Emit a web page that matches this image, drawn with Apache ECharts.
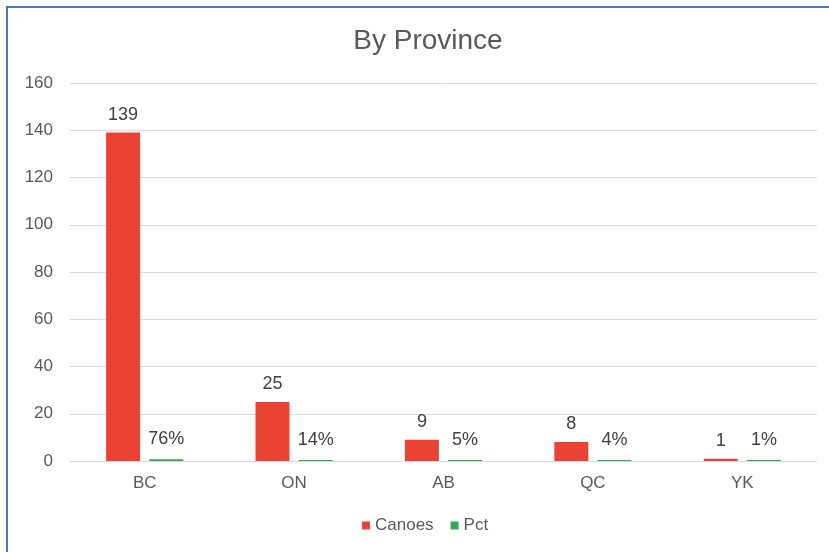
<!DOCTYPE html>
<html>
<head>
<meta charset="utf-8">
<script src="https://cdn.jsdelivr.net/npm/echarts@6/dist/echarts.min.js"></script>
<style>
html,body{margin:0;padding:0;background:#fff;}
#frame{position:absolute;left:6px;top:6px;width:823px;height:546px;border-left:2px solid #4a78cf;border-top:2px solid #4a78cf;}
#chart{position:absolute;left:0;top:0;width:829px;height:552px;}
</style>
</head>
<body>
<div id="frame"></div>
<div id="chart"></div>
<script>
var categories = ['BC', 'ON', 'AB', 'QC', 'YK'];
var canoes = [139, 25, 9, 8, 1];
var pct = [0.76, 0.14, 0.05, 0.04, 0.01];
var yTicks = {min: 0, max: 160, interval: 20};

var chart = echarts.init(document.getElementById('chart'));
var font = 'Liberation Sans, Arial, sans-serif';
chart.setOption({
  backgroundColor: 'transparent',
  animation: false,
  title: {
    text: 'By Province', left: 423, top: 22, textAlign: 'center',
    textStyle: {fontFamily: font, fontSize: 28, fontWeight: 'normal', color: '#595959'}
  },
  legend: {
    data: ['Canoes', 'Pct'], bottom: 18, left: 362, padding: 0,
    itemWidth: 8, itemHeight: 8, itemGap: 17, icon: 'rect',
    textStyle: {fontFamily: font, fontSize: 17, color: '#595959', padding: [0, 0, 0, 0]}
  },
  grid: {left: 70, right: 12, top: 83, bottom: 91, containLabel: false},
  xAxis: {
    type: 'category', data: categories,
    axisLine: {lineStyle: {color: '#d9d9d9', width: 1}},
    axisTick: {show: false},
    axisLabel: {fontFamily: font, fontSize: 17, color: '#595959', margin: 14}
  },
  yAxis: {
    type: 'value', min: yTicks.min, max: yTicks.max, interval: yTicks.interval,
    axisLine: {show: false}, axisTick: {show: false},
    splitLine: {lineStyle: {color: '#d9d9d9', width: 1}},
    axisLabel: {fontFamily: font, fontSize: 17, color: '#595959', margin: 17}
  },
  series: [
    {
      name: 'Canoes', type: 'bar', data: canoes, barWidth: 34, barGap: '27%',
      itemStyle: {color: '#ea4335'}, barMinHeight: 1,
      label: {show: true, position: 'top', distance: 9, fontFamily: font, fontSize: 18, color: '#404040'}
    },
    {
      name: 'Pct', type: 'bar', data: pct, barWidth: 34,
      itemStyle: {color: '#34a853'}, barMinHeight: 1,
      label: {show: true, position: 'top', distance: 11, fontFamily: font, fontSize: 18, color: '#404040',
        formatter: function (p) { return Math.round(p.value * 100) + '%'; }}
    }
  ]
});
</script>
</body>
</html>
